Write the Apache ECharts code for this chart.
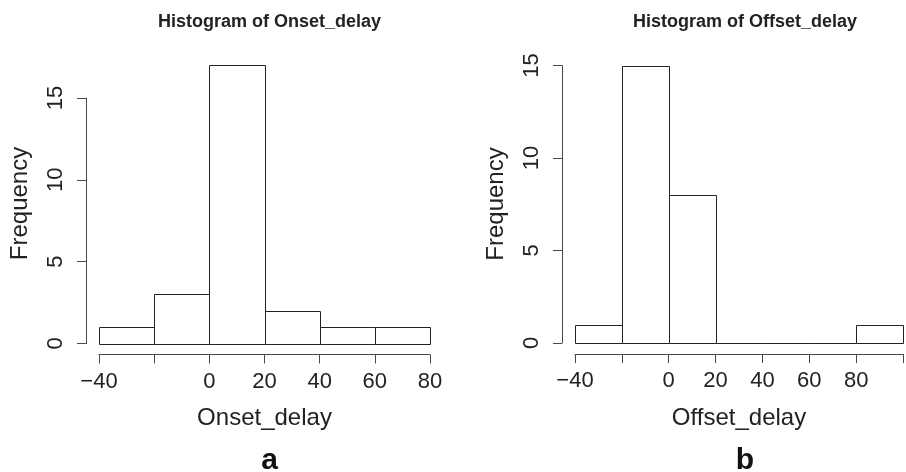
<!DOCTYPE html>
<html>
<head>
<meta charset="utf-8">
<script src="https://cdn.jsdelivr.net/npm/echarts@6/dist/echarts.min.js"></script>
<style>
  html, body { margin: 0; padding: 0; background: #fff; }
  #chart { width: 906px; height: 472px; }
</style>
</head>
<body>
<div id="chart"></div>
<script>
// Bin edges and counts for the two histograms
const onsetEdges = [-40, -20, 0, 20, 40, 60, 80];
const onsetCounts = [1, 3, 17, 2, 1, 1];
const offsetEdges = [-40, -20, 0, 20, 40, 60, 80, 100];
const offsetCounts = [1, 15, 8, 0, 0, 0, 1];

// Axis tick labels (blank entries keep the tick but drop its label)
const onsetTickValues = [-40, -20, 0, 20, 40, 60, 80];
const onsetTickLabels = ['\u221240', '', '0', '20', '40', '60', '80'];
const offsetTickValues = [-40, -20, 0, 20, 40, 60, 80, 100];
const offsetTickLabels = ['\u221240', '', '0', '20', '40', '60', '80', ''];
const freqTickValues = [0, 5, 10, 15];
const freqTickLabels = ['0', '5', '10', '15'];

const titles = ['Histogram of Onset_delay', 'Histogram of Offset_delay'];
const xNames = ['Onset_delay', 'Offset_delay'];
const panelTags = ['a', 'b'];
const yName = 'Frequency';

const FONT = '"Liberation Sans", Arial, Helvetica, sans-serif';
const INK = '#222';
const AXIS = '#4a4a4a';

function binData(edges, counts) {
  return counts.map((c, i) => [edges[i], edges[i + 1], c]);
}

function labelFor(values, labels) {
  return v => {
    const i = values.indexOf(v);
    return i < 0 ? '' : labels[i];
  };
}

function renderBin(params, api) {
  const p0 = api.coord([api.value(0), api.value(2)]);
  const p1 = api.coord([api.value(1), 0]);
  const x = Math.round(p0[0]) + 0.5;
  const y = Math.round(p0[1]) + 0.5;
  const x2 = Math.round(p1[0]) + 0.5;
  const y2 = Math.round(p1[1]) + 0.5;
  return {
    type: 'rect',
    shape: { x: x, y: y, width: x2 - x, height: y2 - y },
    style: { fill: '#fff', stroke: INK, lineWidth: 1 }
  };
}

function xAxisCfg(gridIndex, min, max, values, labels, name) {
  return {
    type: 'value', gridIndex, min, max, interval: 20,
    position: 'bottom', offset: 11,
    name, nameLocation: 'middle', nameGap: 52,
    nameTextStyle: { fontFamily: FONT, fontSize: 24, color: INK },
    axisLine: { show: true, onZero: false, lineStyle: { color: AXIS, width: 1 } },
    axisTick: { show: true, length: 9, lineStyle: { color: AXIS } },
    axisLabel: {
      show: true, margin: 16, fontFamily: FONT, fontSize: 22, color: INK,
      showMinLabel: true, showMaxLabel: true, hideOverlap: false,
      formatter: labelFor(values, labels)
    },
    splitLine: { show: false }
  };
}

function yAxisCfg(gridIndex) {
  return {
    type: 'value', gridIndex, min: 0, max: 15, interval: 5,
    position: 'left', offset: 13,
    axisLine: { show: true, onZero: false, lineStyle: { color: AXIS, width: 1 } },
    axisTick: { show: true, length: 9, lineStyle: { color: AXIS } },
    axisLabel: {
      show: true, rotate: 90, margin: 19, fontFamily: FONT, fontSize: 22, color: INK,
      showMinLabel: true, showMaxLabel: true,
      formatter: labelFor(freqTickValues, freqTickLabels)
    },
    splitLine: { show: false }
  };
}

const chart = echarts.init(document.getElementById('chart'), null, { renderer: 'canvas' });

chart.setOption({
  backgroundColor: '#fff',
  animation: false,
  title: [
    { text: titles[0], left: 264.5, top: 8, textAlign: 'center',
      textStyle: { fontFamily: FONT, fontSize: 18, fontWeight: 'bold', color: INK } },
    { text: titles[1], left: 740, top: 8, textAlign: 'center',
      textStyle: { fontFamily: FONT, fontSize: 18, fontWeight: 'bold', color: INK } },
    { text: panelTags[0], left: 264.5, top: 441, textAlign: 'center',
      textStyle: { fontFamily: FONT, fontSize: 30, fontWeight: 'bold', color: '#111' } },
    { text: panelTags[1], left: 740, top: 441, textAlign: 'center',
      textStyle: { fontFamily: FONT, fontSize: 30, fontWeight: 'bold', color: '#111' } }
  ],
  grid: [
    { left: 99, top: 98, width: 331, height: 245.5 },
    { left: 575, top: 65.5, width: 330, height: 277.5 }
  ],
  xAxis: [
    xAxisCfg(0, -40, 80, onsetTickValues, onsetTickLabels, xNames[0]),
    xAxisCfg(1, -40, 100, offsetTickValues, offsetTickLabels, xNames[1])
  ],
  yAxis: [yAxisCfg(0), yAxisCfg(1)],
  series: [
    { type: 'custom', xAxisIndex: 0, yAxisIndex: 0, clip: false,
      renderItem: renderBin, data: binData(onsetEdges, onsetCounts) },
    { type: 'custom', xAxisIndex: 1, yAxisIndex: 1, clip: false,
      renderItem: renderBin, data: binData(offsetEdges, offsetCounts) }
  ],
  graphic: [
    { type: 'text', x: 20, y: 203.5, rotation: Math.PI / 2,
      style: { text: yName, font: '24px ' + FONT, fill: INK, align: 'center', verticalAlign: 'middle' } },
    { type: 'text', x: 496, y: 204, rotation: Math.PI / 2,
      style: { text: yName, font: '24px ' + FONT, fill: INK, align: 'center', verticalAlign: 'middle' } }
  ]
});
</script>
</body>
</html>
